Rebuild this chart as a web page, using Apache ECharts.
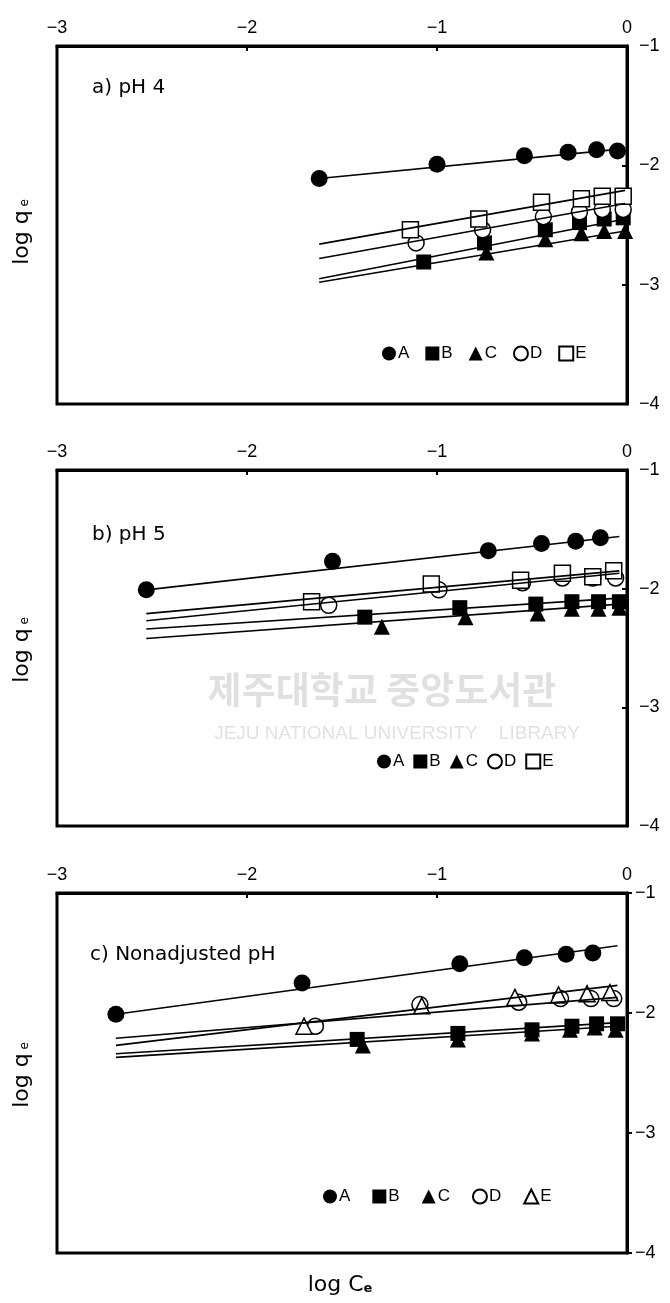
<!DOCTYPE html>
<html>
<head>
<meta charset="utf-8">
<script src="https://cdn.jsdelivr.net/npm/echarts@6/dist/echarts.min.js"></script>
<style>html,body{margin:0;padding:0;background:#fff}#c{width:670px;height:1303px}</style>
</head>
<body>
<div id="c"></div>
<script>
// ---- Data ----
const seriesNames = ['A','B','C','D','E'];
const panelTitles = ['a) pH 4','b) pH 5','c) Nonadjusted pH'];
const xTicks = [-3,-2,-1,0];
const yTicks = [-4,-3,-2,-1];

// Panel a) pH 4
const aX_A = [-1.62,-1.00,-0.54,-0.31,-0.16,-0.05], aY_A = [-2.11,-1.99,-1.92,-1.89,-1.87,-1.88];
const aX_B = [-1.07,-0.75,-0.43,-0.25,-0.12,-0.02], aY_B = [-2.81,-2.65,-2.54,-2.48,-2.45,-2.44];
const aX_C = [-0.74,-0.43,-0.24,-0.12,-0.01],       aY_C = [-2.73,-2.62,-2.57,-2.55,-2.55];
const aX_D = [-1.11,-0.76,-0.44,-0.25,-0.13,-0.02], aY_D = [-2.65,-2.54,-2.43,-2.39,-2.37,-2.37];
const aX_E = [-1.14,-0.78,-0.45,-0.24,-0.13,-0.02], aY_E = [-2.54,-2.45,-2.31,-2.28,-2.26,-2.26];
const aFitX = [-1.62,-0.01];
const aFit_A = [-2.11,-1.86], aFit_B = [-2.95,-2.45], aFit_C = [-2.98,-2.55], aFit_D = [-2.78,-2.32], aFit_E = [-2.66,-2.21];

// Panel b) pH 5
const bX_A = [-2.53,-1.55,-0.73,-0.45,-0.27,-0.14], bY_A = [-2.01,-1.77,-1.68,-1.62,-1.60,-1.57];
const bX_B = [-1.38,-0.88,-0.48,-0.29,-0.15,-0.04], bY_B = [-2.24,-2.16,-2.13,-2.11,-2.11,-2.11];
const bX_C = [-1.29,-0.85,-0.47,-0.29,-0.15,-0.04], bY_C = [-2.32,-2.24,-2.21,-2.17,-2.17,-2.16];
const bX_D = [-1.57,-0.99,-0.55,-0.34,-0.18,-0.06], bY_D = [-2.14,-2.01,-1.95,-1.91,-1.91,-1.91];
const bX_E = [-1.66,-1.03,-0.56,-0.34,-0.18,-0.07], bY_E = [-2.11,-1.96,-1.93,-1.87,-1.90,-1.85];
const bFitX = [-2.53,-0.04];
const bFit_A = [-2.01,-1.56], bFit_B = [-2.34,-2.08], bFit_C = [-2.42,-2.13], bFit_D = [-2.27,-1.87], bFit_E = [-2.21,-1.85];

// Panel c) Nonadjusted pH
const cX_A = [-2.69,-1.71,-0.88,-0.54,-0.32,-0.18], cY_A = [-2.01,-1.75,-1.59,-1.54,-1.51,-1.50];
const cX_B = [-1.42,-0.89,-0.50,-0.29,-0.16,-0.05], cY_B = [-2.22,-2.17,-2.14,-2.11,-2.09,-2.09];
const cX_C = [-1.39,-0.89,-0.50,-0.30,-0.17,-0.06], cY_C = [-2.27,-2.22,-2.17,-2.14,-2.12,-2.14];
const cX_D = [-1.64,-1.09,-0.57,-0.35,-0.19,-0.07], cY_D = [-2.11,-1.93,-1.91,-1.88,-1.88,-1.88];
const cX_E = [-1.70,-1.08,-0.59,-0.36,-0.21,-0.09], cY_E = [-2.11,-1.94,-1.87,-1.85,-1.84,-1.83];
const cFitX = [-2.69,-0.05];
const cFit_A = [-2.01,-1.44], cFit_B = [-2.34,-2.08], cFit_C = [-2.37,-2.11], cFit_D = [-2.21,-1.87], cFit_E = [-2.27,-1.77];

// ---- Assemble ----
const panels = [
  {xs:[aX_A,aX_B,aX_C,aX_D,aX_E], ys:[aY_A,aY_B,aY_C,aY_D,aY_E], fx:aFitX, fy:[aFit_A,aFit_B,aFit_C,aFit_D,aFit_E]},
  {xs:[bX_A,bX_B,bX_C,bX_D,bX_E], ys:[bY_A,bY_B,bY_C,bY_D,bY_E], fx:bFitX, fy:[bFit_A,bFit_B,bFit_C,bFit_D,bFit_E]},
  {xs:[cX_A,cX_B,cX_C,cX_D,cX_E], ys:[cY_A,cY_B,cY_C,cY_D,cY_E], fx:cFitX, fy:[cFit_A,cFit_B,cFit_C,cFit_D,cFit_E]}
];

const FONT = 'Liberation Sans, Arial, sans-serif';
const WFONT = '"DejaVu Sans", sans-serif';
const gridPos = [
  {top:46, height:358},
  {top:470, height:356},
  {top:893, height:360}
];
const legendPos = [
  {left:377, top:340, gap:16},
  {left:372, top:748, gap:9},
  {left:318, top:1183, gap:22}
];
const titlePos = [{x:92,y:88},{x:92,y:535},{x:90,y:955}];
const yNamePos = [232, 650, 1075];

function markerStyle(p, i) {
  const shapes = ['circle','rect','triangle','circle', p===2 ? 'triangle' : 'rect'];
  const filled = i < 3;
  const sizes = {circle: filled ? 17 : 16, rect: filled ? 15 : 16, triangle: 16};
  return {
    symbol: shapes[i],
    symbolSize: sizes[shapes[i]],
    itemStyle: filled ? {color:'#000', opacity:1} : {color:'#fff', borderColor:'#000', borderWidth:1.5, opacity:1}
  };
}

const fmt = v => (v < 0 ? '\u2212' : '') + Math.abs(v);

const grid = [], xAxis = [], yAxis = [], series = [], legend = [], graphic = [];
panels.forEach((pd, p) => {
  grid.push({left:57, right:43, top:gridPos[p].top, height:gridPos[p].height,
    show:true, borderColor:'#000', borderWidth:3, backgroundColor:'transparent'});
  xAxis.push({gridIndex:p, type:'value', position:'top', min:xTicks[0], max:xTicks[xTicks.length-1], interval:1,
    axisLine:{show:true, onZero:false, lineStyle:{color:'#000', width:3}},
    axisTick:{show:true, inside:true, length:5, lineStyle:{color:'#000', width:2}},
    axisLabel:{color:'#000', fontSize:18, fontFamily:FONT, margin:9, formatter:fmt},
    splitLine:{show:false}});
  yAxis.push({gridIndex:p, type:'value', position:'right', min:yTicks[0], max:yTicks[yTicks.length-1], interval:1,
    axisLine:{show:true, onZero:false, lineStyle:{color:'#000', width:3}},
    axisTick:{show:true, inside: p !== 2, length:5, lineStyle:{color:'#000', width:2}},
    axisLabel:{color:'#000', fontSize:18, fontFamily:FONT, margin: p===2 ? 8 : 12, formatter:fmt},
    splitLine:{show:false}});
  const names = [];
  seriesNames.forEach((s, i) => {
    const nm = p + ':' + s;
    names.push(nm);
    const ms = markerStyle(p, i);
    series.push(Object.assign({
      name: nm, type:'scatter', xAxisIndex:p, yAxisIndex:p, z:2,
      emphasis:{disabled:true},
      data: pd.xs[i].map((x, k) => [x, pd.ys[i][k]])
    }, ms));
  });
  seriesNames.forEach((s, i) => {
    series.push({
      name: p + ':fit' + s, type:'line', xAxisIndex:p, yAxisIndex:p, z:3,
      symbol:'none', silent:true,
      lineStyle:{color:'#000', width:1.6},
      data: pd.fx.map((x, k) => [x, pd.fy[i][k]])
    });
  });
  legend.push({
    data: names, left: legendPos[p].left, top: legendPos[p].top, orient:'horizontal',
    itemGap: legendPos[p].gap, itemWidth:14, itemHeight:14, selectedMode:false,
    formatter: n => n.split(':')[1],
    textStyle:{color:'#000', fontSize:17, fontFamily:FONT, padding:[0,0,0,-3]}
  });
  graphic.push({type:'text', x:titlePos[p].x, y:titlePos[p].y,
    style:{text:panelTitles[p], fill:'#000', font:'20px ' + WFONT, align:'left', verticalAlign:'middle'}});
  graphic.push({type:'text', x:22, y:yNamePos[p], rotation:Math.PI/2,
    style:{text:'{a|log q}{b| e}', fill:'#000', align:'center', verticalAlign:'middle',
      rich:{a:{fontSize:22, fontFamily:WFONT, fill:'#000'}, b:{fontSize:12, fontFamily:WFONT, fill:'#000', padding:[6,0,0,0]}}}});
});

// watermark (faint, as in the scanned reference)
graphic.push({type:'text', x:382, y:690, z:-1,
  style:{text:'제주대학교 중앙도서관', fill:'rgba(0,0,0,0.12)', align:'center', verticalAlign:'middle',
    font:'bold 37px "Noto Sans CJK KR"'}});
graphic.push({type:'text', x:397, y:734, z:-1,
  style:{text:'JEJU NATIONAL UNIVERSITY    LIBRARY', fill:'rgba(0,0,0,0.12)', align:'center', verticalAlign:'middle',
    font:'19px ' + FONT}});

// bottom x-axis name
graphic.push({type:'text', x:340, y:1285,
  style:{text:'{a|log C}{b|e}', fill:'#000', align:'center', verticalAlign:'middle',
    rich:{a:{fontSize:22, fontFamily:WFONT, fill:'#000'}, b:{fontSize:13, fontWeight:'bold', fontFamily:WFONT, fill:'#000', padding:[8,0,0,0]}}}});

const chart = echarts.init(document.getElementById('c'), null, {renderer:'canvas'});
chart.setOption({animation:false, backgroundColor:'#fff', grid, xAxis, yAxis, series, legend, graphic});
</script>
</body>
</html>
